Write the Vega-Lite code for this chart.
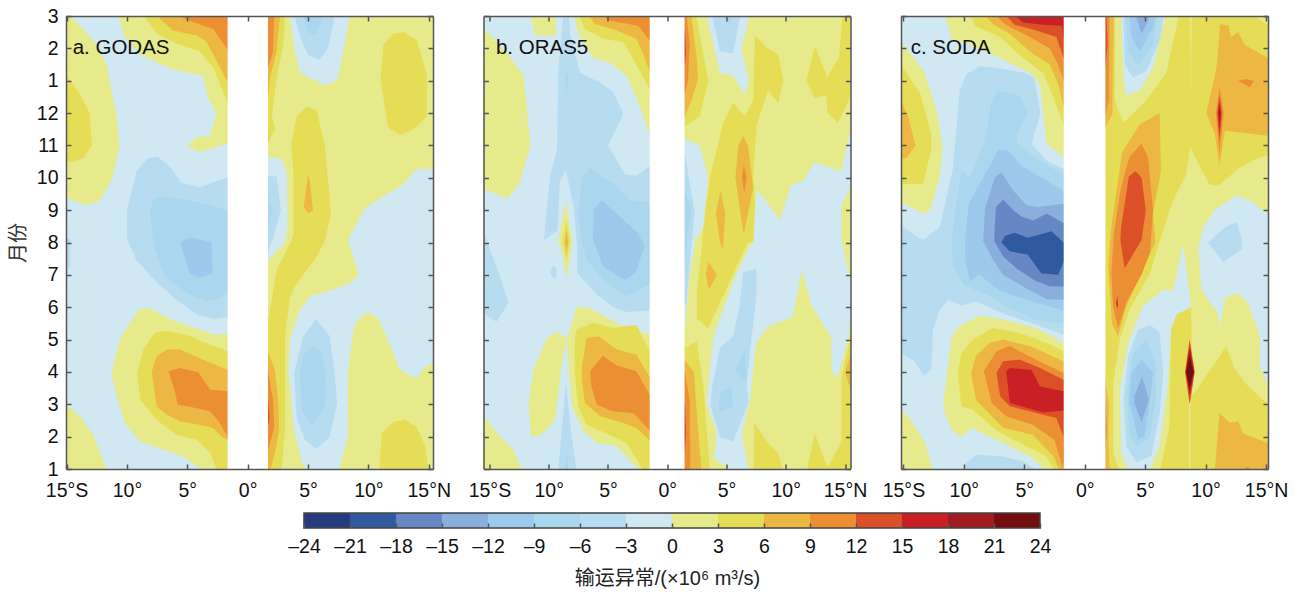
{"$schema":"https://vega.github.io/schema/vega-lite/v6.json","padding":{"left":8,"top":6,"right":0,"bottom":0},"background":"white","config":{"view":{"stroke":null},"font":"Liberation Sans, Noto Sans CJK SC","axis":{"labelFontSize":19.5,"labelColor":"#111","grid":false,"domain":true,"domainColor":"#555","domainWidth":1.5,"tickColor":"#555","tickWidth":1.5,"labelFlush":false,"labelFont":"Liberation Sans","titleFont":"Liberation Sans, Noto Sans CJK SC"}},
"spacing":12,
"vconcat":[{"hconcat":[
{"width":367,"height":453,"resolve":{"axis":{"x":"independent","y":"independent"}},"layer":[
{"data":{"values":[
{"g":0,"l":-1.5,"x":-16,"y":0},{"g":0,"l":-1.5,"x":16,"y":0},{"g":0,"l":-1.5,"x":16,"y":16},{"g":0,"l":-1.5,"x":-16,"y":16},
{"g":1,"l":1.5,"x":-14.6,"y":15},{"g":1,"l":1.5,"x":-12.5,"y":14.1},{"g":1,"l":1.5,"x":-11.7,"y":13.5},{"g":1,"l":1.5,"x":-10.9,"y":12},{"g":1,"l":1.5,"x":-10.6,"y":11},{"g":1,"l":1.5,"x":-11.2,"y":10},{"g":1,"l":1.5,"x":-12.2,"y":9.3},{"g":1,"l":1.5,"x":-13.4,"y":9.15},{"g":1,"l":1.5,"x":-15.1,"y":9.4},{"g":1,"l":1.5,"x":-16,"y":9.4},{"g":1,"l":1.5,"x":-16,"y":15},
{"g":2,"l":4.5,"x":-16,"y":13.2},{"g":2,"l":4.5,"x":-15.1,"y":13.2},{"g":2,"l":4.5,"x":-13.9,"y":12.6},{"g":2,"l":4.5,"x":-13.1,"y":12},{"g":2,"l":4.5,"x":-12.9,"y":11},{"g":2,"l":4.5,"x":-13.6,"y":10.63},{"g":2,"l":4.5,"x":-14.3,"y":10.5},{"g":2,"l":4.5,"x":-16,"y":10.5},
{"g":3,"l":1.5,"x":-10.7,"y":15},{"g":3,"l":1.5,"x":-10.2,"y":14.35},{"g":3,"l":1.5,"x":-8.9,"y":13.8},{"g":3,"l":1.5,"x":-6.2,"y":13.35},{"g":3,"l":1.5,"x":-3.7,"y":13.15},{"g":3,"l":1.5,"x":-3.3,"y":12.5},{"g":3,"l":1.5,"x":-2.6,"y":12},{"g":3,"l":1.5,"x":-3.1,"y":11.3},{"g":3,"l":1.5,"x":-4.2,"y":11.25},{"g":3,"l":1.5,"x":-5.05,"y":11},{"g":3,"l":1.5,"x":-3.95,"y":10.8},{"g":3,"l":1.5,"x":-1.7,"y":11.05},{"g":3,"l":1.5,"x":0,"y":11.05},{"g":3,"l":1.5,"x":0,"y":15},
{"g":4,"l":4.5,"x":-8.6,"y":15},{"g":4,"l":4.5,"x":-7.5,"y":14.45},{"g":4,"l":4.5,"x":-5.9,"y":14.15},{"g":4,"l":4.5,"x":-3.95,"y":13.9},{"g":4,"l":4.5,"x":-2.85,"y":13.4},{"g":4,"l":4.5,"x":-1.65,"y":12.3},{"g":4,"l":4.5,"x":0,"y":12.3},{"g":4,"l":4.5,"x":0,"y":15},
{"g":5,"l":7.5,"x":-7.5,"y":15},{"g":5,"l":7.5,"x":-6.2,"y":14.55},{"g":5,"l":7.5,"x":-4.2,"y":14.4},{"g":5,"l":7.5,"x":-3.4,"y":14.2},{"g":5,"l":7.5,"x":-1.65,"y":12.95},{"g":5,"l":7.5,"x":0,"y":12.95},{"g":5,"l":7.5,"x":0,"y":15},
{"g":6,"l":10.5,"x":-5.75,"y":15},{"g":6,"l":10.5,"x":-4.8,"y":14.85},{"g":6,"l":10.5,"x":-2.85,"y":14.6},{"g":6,"l":10.5,"x":-1.65,"y":13.95},{"g":6,"l":10.5,"x":0,"y":13.95},{"g":6,"l":10.5,"x":0,"y":15},
{"g":7,"l":-4.5,"x":-1.65,"y":10.02},{"g":7,"l":-4.5,"x":-2.85,"y":9.87},{"g":7,"l":-4.5,"x":-3.95,"y":9.7},{"g":7,"l":-4.5,"x":-5.5,"y":9.85},{"g":7,"l":-4.5,"x":-6.4,"y":10.33},{"g":7,"l":-4.5,"x":-7.5,"y":10.66},{"g":7,"l":-4.5,"x":-8.3,"y":10.6},{"g":7,"l":-4.5,"x":-9.2,"y":10.2},{"g":7,"l":-4.5,"x":-9.6,"y":9.6},{"g":7,"l":-4.5,"x":-10,"y":9},{"g":7,"l":-4.5,"x":-10,"y":8.1},{"g":7,"l":-4.5,"x":-9.2,"y":7.45},{"g":7,"l":-4.5,"x":-7.5,"y":6.75},{"g":7,"l":-4.5,"x":-5.9,"y":6.23},{"g":7,"l":-4.5,"x":-4.2,"y":5.77},{"g":7,"l":-4.5,"x":-2.85,"y":5.64},{"g":7,"l":-4.5,"x":-1.65,"y":5.7},{"g":7,"l":-4.5,"x":0,"y":5.7},{"g":7,"l":-4.5,"x":0,"y":10.02},
{"g":8,"l":-7.5,"x":-1.65,"y":9},{"g":8,"l":-7.5,"x":-3.1,"y":9.16},{"g":8,"l":-7.5,"x":-4.8,"y":9.3},{"g":8,"l":-7.5,"x":-6.9,"y":9.42},{"g":8,"l":-7.5,"x":-7.8,"y":9.35},{"g":8,"l":-7.5,"x":-8.1,"y":9},{"g":8,"l":-7.5,"x":-7.8,"y":7.98},{"g":8,"l":-7.5,"x":-7,"y":7.05},{"g":8,"l":-7.5,"x":-6.2,"y":6.75},{"g":8,"l":-7.5,"x":-4.8,"y":6.39},{"g":8,"l":-7.5,"x":-3.4,"y":6.18},{"g":8,"l":-7.5,"x":-2.6,"y":6.23},{"g":8,"l":-7.5,"x":-1.65,"y":6.49},{"g":8,"l":-7.5,"x":0,"y":6.49},{"g":8,"l":-7.5,"x":0,"y":9},
{"g":9,"l":-10.5,"x":-5.6,"y":8},{"g":9,"l":-10.5,"x":-4.8,"y":8.16},{"g":9,"l":-10.5,"x":-3,"y":8},{"g":9,"l":-10.5,"x":-2.9,"y":7.05},{"g":9,"l":-10.5,"x":-3.95,"y":6.9},{"g":9,"l":-10.5,"x":-4.8,"y":7.05},
{"g":10,"l":-4.5,"x":-16,"y":8.3},{"g":10,"l":-4.5,"x":-14.7,"y":8.1},{"g":10,"l":-4.5,"x":-14.7,"y":7.3},{"g":10,"l":-4.5,"x":-16,"y":6.6},
{"g":11,"l":1.5,"x":-11.3,"y":3.97},{"g":11,"l":1.5,"x":-10.6,"y":5},{"g":11,"l":1.5,"x":-9.05,"y":5.92},{"g":11,"l":1.5,"x":-8.1,"y":5.97},{"g":11,"l":1.5,"x":-6.2,"y":5.6},{"g":11,"l":1.5,"x":-3.95,"y":5.3},{"g":11,"l":1.5,"x":-2.7,"y":5.15},{"g":11,"l":1.5,"x":-1.65,"y":5.18},{"g":11,"l":1.5,"x":0,"y":5.18},{"g":11,"l":1.5,"x":0,"y":0.9},{"g":11,"l":1.5,"x":-3.6,"y":0.9},{"g":11,"l":1.5,"x":-5.1,"y":1.34},{"g":11,"l":1.5,"x":-7,"y":1.6},{"g":11,"l":1.5,"x":-8.9,"y":1.85},{"g":11,"l":1.5,"x":-10.15,"y":2.4},{"g":11,"l":1.5,"x":-10.85,"y":3.25},
{"g":12,"l":4.5,"x":-9.15,"y":3.97},{"g":12,"l":4.5,"x":-8.65,"y":4.69},{"g":12,"l":4.5,"x":-7.7,"y":5.2},{"g":12,"l":4.5,"x":-7,"y":5.27},{"g":12,"l":4.5,"x":-5.05,"y":5.15},{"g":12,"l":4.5,"x":-2.85,"y":4.8},{"g":12,"l":4.5,"x":-1.65,"y":4.65},{"g":12,"l":4.5,"x":0,"y":4.65},{"g":12,"l":4.5,"x":0,"y":0.9},{"g":12,"l":4.5,"x":-2.5,"y":0.9},{"g":12,"l":4.5,"x":-3.1,"y":1.5},{"g":12,"l":4.5,"x":-4.2,"y":1.9},{"g":12,"l":4.5,"x":-5.9,"y":2.06},{"g":12,"l":4.5,"x":-7.55,"y":2.52},{"g":12,"l":4.5,"x":-8.9,"y":3.14},
{"g":13,"l":7.5,"x":-7.95,"y":4},{"g":13,"l":7.5,"x":-7.55,"y":4.48},{"g":13,"l":7.5,"x":-6.7,"y":4.69},{"g":13,"l":7.5,"x":-5.6,"y":4.69},{"g":13,"l":7.5,"x":-3.4,"y":4.33},{"g":13,"l":7.5,"x":-1.65,"y":4.07},{"g":13,"l":7.5,"x":0,"y":4.07},{"g":13,"l":7.5,"x":0,"y":1.9},{"g":13,"l":7.5,"x":-1.65,"y":1.9},{"g":13,"l":7.5,"x":-2.15,"y":2},{"g":13,"l":7.5,"x":-2.85,"y":2.27},{"g":13,"l":7.5,"x":-3.95,"y":2.37},{"g":13,"l":7.5,"x":-5.6,"y":2.47},{"g":13,"l":7.5,"x":-6.7,"y":2.68},{"g":13,"l":7.5,"x":-7.55,"y":2.94},
{"g":14,"l":10.5,"x":-6.55,"y":4.02},{"g":14,"l":10.5,"x":-5.6,"y":4.12},{"g":14,"l":10.5,"x":-4.1,"y":3.99},{"g":14,"l":10.5,"x":-3.1,"y":3.45},{"g":14,"l":10.5,"x":-1.65,"y":3.4},{"g":14,"l":10.5,"x":0,"y":3.4},{"g":14,"l":10.5,"x":0,"y":2},{"g":14,"l":10.5,"x":-1.65,"y":2},{"g":14,"l":10.5,"x":-2.4,"y":2.47},{"g":14,"l":10.5,"x":-3.1,"y":2.78},{"g":14,"l":10.5,"x":-4.2,"y":2.88},{"g":14,"l":10.5,"x":-5.8,"y":2.99},{"g":14,"l":10.5,"x":-6,"y":3.35},
{"g":15,"l":1.5,"x":-16,"y":2.99},{"g":15,"l":1.5,"x":-15.1,"y":2.99},{"g":15,"l":1.5,"x":-13.9,"y":2.63},{"g":15,"l":1.5,"x":-12.8,"y":2.06},{"g":15,"l":1.5,"x":-11.6,"y":0.9},{"g":15,"l":1.5,"x":-16,"y":0.9},
{"g":16,"l":4.5,"x":-16,"y":1.25},{"g":16,"l":4.5,"x":-15.1,"y":1.25},{"g":16,"l":4.5,"x":-14.6,"y":0.9},{"g":16,"l":4.5,"x":-16,"y":0.9},
{"g":17,"l":1.5,"x":0,"y":0.9},{"g":17,"l":1.5,"x":5,"y":0.9},{"g":17,"l":1.5,"x":4.5,"y":1.2},{"g":17,"l":1.5,"x":3.8,"y":2.3},{"g":17,"l":1.5,"x":3.4,"y":3.97},{"g":17,"l":1.5,"x":3.5,"y":5},{"g":17,"l":1.5,"x":4.3,"y":5.9},{"g":17,"l":1.5,"x":5.2,"y":6.35},{"g":17,"l":1.5,"x":6.7,"y":6.49},{"g":17,"l":1.5,"x":8.5,"y":6.75},{"g":17,"l":1.5,"x":9.2,"y":7},{"g":17,"l":1.5,"x":8.3,"y":8.08},{"g":17,"l":1.5,"x":9.7,"y":9.05},{"g":17,"l":1.5,"x":10.7,"y":9.3},{"g":17,"l":1.5,"x":12.9,"y":9.8},{"g":17,"l":1.5,"x":14,"y":10.27},{"g":17,"l":1.5,"x":16,"y":10.27},{"g":17,"l":1.5,"x":16,"y":15.1},{"g":17,"l":1.5,"x":0,"y":15.1},
{"g":18,"l":1.5,"x":7.5,"y":0.9},{"g":18,"l":1.5,"x":8.3,"y":2},{"g":18,"l":1.5,"x":8.3,"y":3.97},{"g":18,"l":1.5,"x":8.75,"y":5.3},{"g":18,"l":1.5,"x":9.2,"y":5.66},{"g":18,"l":1.5,"x":10,"y":5.84},{"g":18,"l":1.5,"x":10.8,"y":5.66},{"g":18,"l":1.5,"x":11.5,"y":5.1},{"g":18,"l":1.5,"x":12.6,"y":4.07},{"g":18,"l":1.5,"x":14,"y":3.8},{"g":18,"l":1.5,"x":14.55,"y":4.1},{"g":18,"l":1.5,"x":15.4,"y":4.3},{"g":18,"l":1.5,"x":16,"y":4.3},{"g":18,"l":1.5,"x":16,"y":0.9},
{"g":19,"l":-1.5,"x":3.45,"y":15.1},{"g":19,"l":-1.5,"x":3.9,"y":13.9},{"g":19,"l":-1.5,"x":4.35,"y":13.25},{"g":19,"l":-1.5,"x":6.4,"y":12.85},{"g":19,"l":-1.5,"x":7.4,"y":13},{"g":19,"l":-1.5,"x":8.05,"y":14.15},{"g":19,"l":-1.5,"x":8.5,"y":15.1},
{"g":20,"l":-4.5,"x":3.8,"y":15.1},{"g":20,"l":-4.5,"x":4.35,"y":14.35},{"g":20,"l":-4.5,"x":5,"y":13.8},{"g":20,"l":-4.5,"x":6,"y":13.65},{"g":20,"l":-4.5,"x":6.7,"y":14.05},{"g":20,"l":-4.5,"x":7.25,"y":15.1},
{"g":21,"l":-7.5,"x":4.5,"y":15.1},{"g":21,"l":-7.5,"x":5,"y":14.5},{"g":21,"l":-7.5,"x":5.6,"y":14.4},{"g":21,"l":-7.5,"x":6.4,"y":15.1},
{"g":22,"l":4.5,"x":11,"y":13.05},{"g":22,"l":4.5,"x":11.25,"y":14.13},{"g":22,"l":4.5,"x":12.1,"y":14.46},{"g":22,"l":4.5,"x":13,"y":14.5},{"g":22,"l":4.5,"x":14,"y":14.25},{"g":22,"l":4.5,"x":14.85,"y":13.2},{"g":22,"l":4.5,"x":14.85,"y":11.9},{"g":22,"l":4.5,"x":13.75,"y":11.5},{"g":22,"l":4.5,"x":12.6,"y":11.33},{"g":22,"l":4.5,"x":11.65,"y":11.55},
{"g":23,"l":4.5,"x":4.9,"y":12.2},{"g":23,"l":4.5,"x":5.7,"y":12.1},{"g":23,"l":4.5,"x":6.4,"y":11},{"g":23,"l":4.5,"x":6.8,"y":9.3},{"g":23,"l":4.5,"x":6.9,"y":8.9},{"g":23,"l":4.5,"x":6.4,"y":8.05},{"g":23,"l":4.5,"x":5.7,"y":7.55},{"g":23,"l":4.5,"x":3.9,"y":6.64},{"g":23,"l":4.5,"x":3.5,"y":6.3},{"g":23,"l":4.5,"x":3.1,"y":5.1},{"g":23,"l":4.5,"x":3.1,"y":2.3},{"g":23,"l":4.5,"x":2.8,"y":0.9},{"g":23,"l":4.5,"x":0,"y":0.9},{"g":23,"l":4.5,"x":0,"y":5.6},{"g":23,"l":4.5,"x":1.7,"y":5.6},{"g":23,"l":4.5,"x":1.85,"y":5.9},{"g":23,"l":4.5,"x":2.4,"y":7.16},{"g":23,"l":4.5,"x":3.65,"y":8.08},{"g":23,"l":4.5,"x":3.8,"y":8.27},{"g":23,"l":4.5,"x":3.8,"y":10.1},{"g":23,"l":4.5,"x":3.6,"y":11},{"g":23,"l":4.5,"x":4.05,"y":11.9},
{"g":24,"l":4.5,"x":0,"y":15.1},{"g":24,"l":4.5,"x":3.1,"y":15.1},{"g":24,"l":4.5,"x":2.95,"y":14.1},{"g":24,"l":4.5,"x":2.4,"y":13.1},{"g":24,"l":4.5,"x":2,"y":11.9},{"g":24,"l":4.5,"x":2.3,"y":11.5},{"g":24,"l":4.5,"x":1.7,"y":11.1},{"g":24,"l":4.5,"x":0,"y":11.1},
{"g":25,"l":7.5,"x":0,"y":15.1},{"g":25,"l":7.5,"x":2.7,"y":15.1},{"g":25,"l":7.5,"x":2.4,"y":13.9},{"g":25,"l":7.5,"x":1.85,"y":13.1},{"g":25,"l":7.5,"x":1.7,"y":12.6},{"g":25,"l":7.5,"x":0,"y":12.6},
{"g":26,"l":10.5,"x":0,"y":15.1},{"g":26,"l":10.5,"x":2.2,"y":15.1},{"g":26,"l":10.5,"x":2.1,"y":13.9},{"g":26,"l":10.5,"x":1.7,"y":13.4},{"g":26,"l":10.5,"x":0,"y":13.4},
{"g":27,"l":-1.5,"x":0,"y":10.65},{"g":27,"l":-1.5,"x":2.8,"y":10.6},{"g":27,"l":-1.5,"x":3.25,"y":10.1},{"g":27,"l":-1.5,"x":3.3,"y":8.4},{"g":27,"l":-1.5,"x":3.05,"y":8},{"g":27,"l":-1.5,"x":1.7,"y":7.45},{"g":27,"l":-1.5,"x":0,"y":7.45},
{"g":28,"l":-4.5,"x":0,"y":10.07},{"g":28,"l":-4.5,"x":2.4,"y":10.05},{"g":28,"l":-4.5,"x":2.75,"y":9},{"g":28,"l":-4.5,"x":2.1,"y":8.1},{"g":28,"l":-4.5,"x":1.7,"y":7.75},{"g":28,"l":-4.5,"x":0,"y":7.75},
{"g":29,"l":-7.5,"x":0,"y":9.5},{"g":29,"l":-7.5,"x":1.7,"y":9.45},{"g":29,"l":-7.5,"x":2.1,"y":9},{"g":29,"l":-7.5,"x":1.7,"y":8.5},{"g":29,"l":-7.5,"x":0,"y":8.5},
{"g":30,"l":7.5,"x":5,"y":10.1},{"g":30,"l":7.5,"x":4.65,"y":9.1},{"g":30,"l":7.5,"x":5,"y":8.9},{"g":30,"l":7.5,"x":5.4,"y":9},{"g":30,"l":7.5,"x":5.15,"y":9.9},
{"g":31,"l":-4.5,"x":5.65,"y":5.63},{"g":31,"l":-4.5,"x":4.6,"y":5.1},{"g":31,"l":-4.5,"x":3.85,"y":3.97},{"g":31,"l":-4.5,"x":4.05,"y":2.6},{"g":31,"l":-4.5,"x":4.75,"y":1.9},{"g":31,"l":-4.5,"x":5.7,"y":1.62},{"g":31,"l":-4.5,"x":6.8,"y":2},{"g":31,"l":-4.5,"x":7.4,"y":3.04},{"g":31,"l":-4.5,"x":7.2,"y":3.97},{"g":31,"l":-4.5,"x":6.8,"y":5.1},
{"g":32,"l":-7.5,"x":5.45,"y":4.8},{"g":32,"l":-7.5,"x":4.65,"y":4.58},{"g":32,"l":-7.5,"x":4.3,"y":3.97},{"g":32,"l":-7.5,"x":4.5,"y":2.83},{"g":32,"l":-7.5,"x":5.3,"y":2.37},{"g":32,"l":-7.5,"x":6.4,"y":2.94},{"g":32,"l":-7.5,"x":6.5,"y":3.86},{"g":32,"l":-7.5,"x":6.1,"y":4.58},
{"g":33,"l":4.5,"x":10.9,"y":0.9},{"g":33,"l":4.5,"x":11.1,"y":2.1},{"g":33,"l":4.5,"x":12.1,"y":2.47},{"g":33,"l":4.5,"x":13,"y":2.52},{"g":33,"l":4.5,"x":14,"y":2.3},{"g":33,"l":4.5,"x":14.7,"y":1.7},{"g":33,"l":4.5,"x":15,"y":0.9},
{"g":34,"l":7.5,"x":0,"y":4.6},{"g":34,"l":7.5,"x":1.7,"y":4.6},{"g":34,"l":7.5,"x":2.25,"y":4.07},{"g":34,"l":7.5,"x":2.55,"y":3.04},{"g":34,"l":7.5,"x":2.6,"y":2.2},{"g":34,"l":7.5,"x":2.25,"y":1.5},{"g":34,"l":7.5,"x":1.85,"y":0.9},{"g":34,"l":7.5,"x":0,"y":0.9},
{"g":35,"l":10.5,"x":0,"y":4},{"g":35,"l":10.5,"x":1.7,"y":4},{"g":35,"l":10.5,"x":2.1,"y":3.15},{"g":35,"l":10.5,"x":2.2,"y":2.3},{"g":35,"l":10.5,"x":1.7,"y":1.6},{"g":35,"l":10.5,"x":0,"y":1.6},
{"g":36,"l":13.5,"x":0,"y":3.15},{"g":36,"l":13.5,"x":1.7,"y":3.15},{"g":36,"l":13.5,"x":1.8,"y":2.6},{"g":36,"l":13.5,"x":1.7,"y":2.35},{"g":36,"l":13.5,"x":0,"y":2.35}
]},
"mark":{"type":"line","clip":true,"strokeWidth":0},"encoding":{"x":{"field":"x","type":"quantitative","scale":{"domain":[-15.05,15.35],"nice":false,"zero":false},"title":null,"axis":{"zindex":1,"values":[-15,-10,-5,0,5,10,15],"tickSize":-5,"labelPadding":17,"labelExpr":"datum.value==-15?'15°S':datum.value==15?'15°N':abs(datum.value)+'°'"}},"y":{"field":"y","type":"quantitative","scale":{"domain":[1,15],"nice":false,"zero":false},"title":"月份","axis":{"zindex":1,"values":[1,2,3,4,5,6,7,8,9,10,11,12,13,14,15],"tickSize":-5,"labelPadding":13,"titleFontSize":20,"titleFontWeight":"normal","titleColor":"#333","titlePadding":8,"labelExpr":"datum.value>12?datum.value-12:datum.value"}},"detail":{"field":"g"},"order":{"value":null},"fill":{"field":"l","type":"quantitative","legend":null,"scale":{"type":"threshold","domain":[-21,-18,-15,-12,-9,-6,-3,0,3,6,9,12,15,18,21],"range":["#263a80","#2f5a9f","#6786c4","#8bafdc","#9cc9ec","#aad6ee","#b8dcef","#cfe8f2","#e6ea8a","#e5dd55","#ecb843","#ec8e33","#dc5027","#c92026","#a01c20","#730d0e"]}}}},
{"data":{"values":[{"x":-1.66,"x2":1.68,"y":1,"y2":15}]},"mark":{"type":"rect","fill":"white"},"encoding":{"x":{"field":"x","type":"quantitative","title":null,"axis":{"zindex":1,"orient":"top","values":[-15,-10,-5,0,5,10,15],"tickSize":-5,"labels":false}},"x2":{"field":"x2"},"y":{"field":"y","type":"quantitative","title":null,"axis":{"zindex":1,"orient":"right","values":[1,2,3,4,5,6,7,8,9,10,11,12,13,14,15],"tickSize":-5,"labels":false}},"y2":{"field":"y2"}}},
{"data":{"values":[{"x":-14.5,"y":14,"t":"a. GODAS"}]},"mark":{"type":"text","align":"left","baseline":"middle","fontSize":20.5,"color":"#111"},"encoding":{"x":{"field":"x","type":"quantitative","axis":null},"y":{"field":"y","type":"quantitative","axis":null},"text":{"field":"t"}}}
]},
{"width":367,"height":453,"resolve":{"axis":{"x":"independent","y":"independent"}},"layer":[
{"data":{"values":[
{"g":0,"l":-1.5,"x":-16,"y":0},{"g":0,"l":-1.5,"x":16,"y":0},{"g":0,"l":-1.5,"x":16,"y":16},{"g":0,"l":-1.5,"x":-16,"y":16},
{"g":1,"l":1.5,"x":-16,"y":14.6},{"g":1,"l":1.5,"x":-15.45,"y":14.6},{"g":1,"l":1.5,"x":-13.4,"y":13.8},{"g":1,"l":1.5,"x":-12.1,"y":13.15},{"g":1,"l":1.5,"x":-11.55,"y":11},{"g":1,"l":1.5,"x":-12.4,"y":9.87},{"g":1,"l":1.5,"x":-13.45,"y":9.35},{"g":1,"l":1.5,"x":-15.45,"y":9.65},{"g":1,"l":1.5,"x":-16,"y":9.65},
{"g":2,"l":1.5,"x":-11.6,"y":15.1},{"g":2,"l":1.5,"x":-11.15,"y":14.4},{"g":2,"l":1.5,"x":-9.4,"y":14.4},{"g":2,"l":1.5,"x":-9.4,"y":15.1},
{"g":3,"l":1.5,"x":-7.9,"y":15.1},{"g":3,"l":1.5,"x":-7.5,"y":14.45},{"g":3,"l":1.5,"x":-6.25,"y":13.7},{"g":3,"l":1.5,"x":-4.8,"y":13.55},{"g":3,"l":1.5,"x":-3.45,"y":13.15},{"g":3,"l":1.5,"x":-2.6,"y":12.5},{"g":3,"l":1.5,"x":-1.5,"y":11.35},{"g":3,"l":1.5,"x":0,"y":11.35},{"g":3,"l":1.5,"x":0,"y":15.1},
{"g":4,"l":4.5,"x":-7.5,"y":15.1},{"g":4,"l":4.5,"x":-6.95,"y":14.6},{"g":4,"l":4.5,"x":-5.4,"y":14.3},{"g":4,"l":4.5,"x":-3.7,"y":14.2},{"g":4,"l":4.5,"x":-2.85,"y":13.65},{"g":4,"l":4.5,"x":-1.5,"y":12.75},{"g":4,"l":4.5,"x":0,"y":12.75},{"g":4,"l":4.5,"x":0,"y":15.1},
{"g":5,"l":7.5,"x":-6.8,"y":15.1},{"g":5,"l":7.5,"x":-6.1,"y":14.75},{"g":5,"l":7.5,"x":-4.25,"y":14.55},{"g":5,"l":7.5,"x":-2.6,"y":14.3},{"g":5,"l":7.5,"x":-2,"y":13.8},{"g":5,"l":7.5,"x":-1.5,"y":13.3},{"g":5,"l":7.5,"x":0,"y":13.3},{"g":5,"l":7.5,"x":0,"y":15.1},
{"g":6,"l":10.5,"x":-5.8,"y":15.1},{"g":6,"l":10.5,"x":-4.8,"y":14.85},{"g":6,"l":10.5,"x":-2.45,"y":14.7},{"g":6,"l":10.5,"x":-1.5,"y":14.25},{"g":6,"l":10.5,"x":0,"y":14.25},{"g":6,"l":10.5,"x":0,"y":15.1},
{"g":7,"l":-4.5,"x":-8.75,"y":15.1},{"g":7,"l":-4.5,"x":-9.2,"y":13.3},{"g":7,"l":-4.5,"x":-9.3,"y":10.9},{"g":7,"l":-4.5,"x":-9.9,"y":10},{"g":7,"l":-4.5,"x":-10.4,"y":8.07},{"g":7,"l":-4.5,"x":-9.25,"y":8.37},{"g":7,"l":-4.5,"x":-9.05,"y":9.9},{"g":7,"l":-4.5,"x":-8.55,"y":10.25},{"g":7,"l":-4.5,"x":-7.9,"y":9.1},{"g":7,"l":-4.5,"x":-7.6,"y":7.85},{"g":7,"l":-4.5,"x":-7.6,"y":7.05},{"g":7,"l":-4.5,"x":-5.95,"y":6.4},{"g":7,"l":-4.5,"x":-4.55,"y":6},{"g":7,"l":-4.5,"x":-3.45,"y":5.85},{"g":7,"l":-4.5,"x":-1.5,"y":5.9},{"g":7,"l":-4.5,"x":0,"y":5.9},{"g":7,"l":-4.5,"x":0,"y":10.35},{"g":7,"l":-4.5,"x":-1.5,"y":10.35},{"g":7,"l":-4.5,"x":-2.6,"y":10.07},{"g":7,"l":-4.5,"x":-3.55,"y":10.1},{"g":7,"l":-4.5,"x":-5,"y":11},{"g":7,"l":-4.5,"x":-3.7,"y":11.97},{"g":7,"l":-4.5,"x":-4.55,"y":12.65},{"g":7,"l":-4.5,"x":-5.7,"y":12.95},{"g":7,"l":-4.5,"x":-7.35,"y":13.25},{"g":7,"l":-4.5,"x":-8.2,"y":14.45},{"g":7,"l":-4.5,"x":-8.3,"y":15.1},
{"g":8,"l":-7.5,"x":-8.55,"y":13.35},{"g":8,"l":-7.5,"x":-8.35,"y":13},{"g":8,"l":-7.5,"x":-8.5,"y":12.55},{"g":8,"l":-7.5,"x":-8.6,"y":13},
{"g":9,"l":-7.5,"x":-6.5,"y":10.3},{"g":9,"l":-7.5,"x":-7.2,"y":10},{"g":9,"l":-7.5,"x":-7.5,"y":8.9},{"g":9,"l":-7.5,"x":-7.25,"y":8.08},{"g":9,"l":-7.5,"x":-6.8,"y":7.47},{"g":9,"l":-7.5,"x":-5.4,"y":6.85},{"g":9,"l":-7.5,"x":-3.45,"y":6.35},{"g":9,"l":-7.5,"x":-1.5,"y":6.7},{"g":9,"l":-7.5,"x":0,"y":6.7},{"g":9,"l":-7.5,"x":0,"y":9.25},{"g":9,"l":-7.5,"x":-1.5,"y":9.25},{"g":9,"l":-7.5,"x":-3.15,"y":9.3},{"g":9,"l":-7.5,"x":-4.25,"y":9.75},{"g":9,"l":-7.5,"x":-5.4,"y":10},
{"g":10,"l":-10.5,"x":-5.55,"y":9.3},{"g":10,"l":-10.5,"x":-6.2,"y":9},{"g":10,"l":-10.5,"x":-6.25,"y":8.08},{"g":10,"l":-10.5,"x":-5.4,"y":7.26},{"g":10,"l":-10.5,"x":-3.55,"y":6.85},{"g":10,"l":-10.5,"x":-2.7,"y":7.05},{"g":10,"l":-10.5,"x":-1.9,"y":7.9},{"g":10,"l":-10.5,"x":-2.45,"y":8.27},{"g":10,"l":-10.5,"x":-4.25,"y":8.9},
{"g":11,"l":1.5,"x":-8.55,"y":9.3},{"g":11,"l":1.5,"x":-9.2,"y":8.05},{"g":11,"l":1.5,"x":-8.9,"y":7.77},{"g":11,"l":1.5,"x":-8.5,"y":6.87},{"g":11,"l":1.5,"x":-8.05,"y":7.88},{"g":11,"l":1.5,"x":-8.05,"y":8.05},
{"g":12,"l":4.5,"x":-8.5,"y":8.7},{"g":12,"l":4.5,"x":-8.85,"y":8.05},{"g":12,"l":4.5,"x":-8.5,"y":7.4},{"g":12,"l":4.5,"x":-8.2,"y":8.05},
{"g":13,"l":7.5,"x":-8.5,"y":8.4},{"g":13,"l":7.5,"x":-8.65,"y":8},{"g":13,"l":7.5,"x":-8.5,"y":7.7},{"g":13,"l":7.5,"x":-8.35,"y":8},
{"g":14,"l":-4.5,"x":-9.6,"y":7.3},{"g":14,"l":-4.5,"x":-9.9,"y":7.05},{"g":14,"l":-4.5,"x":-9.45,"y":6.83},{"g":14,"l":-4.5,"x":-9.3,"y":7.16},
{"g":15,"l":-4.5,"x":-16,"y":8.3},{"g":15,"l":-4.5,"x":-15.45,"y":8.3},{"g":15,"l":-4.5,"x":-14.95,"y":7.78},{"g":15,"l":-4.5,"x":-14.1,"y":6.95},{"g":15,"l":-4.5,"x":-13.4,"y":6.13},{"g":15,"l":-4.5,"x":-14.4,"y":5.55},{"g":15,"l":-4.5,"x":-15.45,"y":5.8},{"g":15,"l":-4.5,"x":-16,"y":5.8},
{"g":16,"l":1.5,"x":-8.5,"y":5.05},{"g":16,"l":1.5,"x":-9.45,"y":5.25},{"g":16,"l":1.5,"x":-10.2,"y":5},{"g":16,"l":1.5,"x":-11.3,"y":4.07},{"g":16,"l":1.5,"x":-11.7,"y":3.04},{"g":16,"l":1.5,"x":-11.5,"y":2},{"g":16,"l":1.5,"x":-10.6,"y":2.06},{"g":16,"l":1.5,"x":-9.45,"y":2.52},{"g":16,"l":1.5,"x":-9,"y":3.97},
{"g":17,"l":1.5,"x":-8.5,"y":5},{"g":17,"l":1.5,"x":-7.6,"y":6.03},{"g":17,"l":1.5,"x":-6.5,"y":5.97},{"g":17,"l":1.5,"x":-4,"y":5.46},{"g":17,"l":1.5,"x":-1.5,"y":5.15},{"g":17,"l":1.5,"x":0,"y":5.15},{"g":17,"l":1.5,"x":0,"y":0.9},{"g":17,"l":1.5,"x":-2.2,"y":0.9},{"g":17,"l":1.5,"x":-4.25,"y":1.7},{"g":17,"l":1.5,"x":-5.95,"y":1.8},{"g":17,"l":1.5,"x":-7.1,"y":2.2},{"g":17,"l":1.5,"x":-8.05,"y":2.94},
{"g":18,"l":4.5,"x":-7.8,"y":5.05},{"g":18,"l":4.5,"x":-7.65,"y":5.3},{"g":18,"l":4.5,"x":-6.25,"y":5.53},{"g":18,"l":4.5,"x":-4.55,"y":5.36},{"g":18,"l":4.5,"x":-2.6,"y":5.46},{"g":18,"l":4.5,"x":-1.5,"y":4.64},{"g":18,"l":4.5,"x":0,"y":4.64},{"g":18,"l":4.5,"x":0,"y":0.9},{"g":18,"l":4.5,"x":-1.9,"y":0.9},{"g":18,"l":4.5,"x":-3.45,"y":1.8},{"g":18,"l":4.5,"x":-5.1,"y":2.1},{"g":18,"l":4.5,"x":-6.8,"y":2.37},{"g":18,"l":4.5,"x":-7.5,"y":2.94},{"g":18,"l":4.5,"x":-7.8,"y":3.97},
{"g":19,"l":7.5,"x":-7.2,"y":4.17},{"g":19,"l":7.5,"x":-6.8,"y":5.05},{"g":19,"l":7.5,"x":-5.8,"y":5.1},{"g":19,"l":7.5,"x":-4.25,"y":4.69},{"g":19,"l":7.5,"x":-2.6,"y":4.53},{"g":19,"l":7.5,"x":-1.5,"y":3.86},{"g":19,"l":7.5,"x":0,"y":3.86},{"g":19,"l":7.5,"x":0,"y":1.9},{"g":19,"l":7.5,"x":-1.5,"y":1.9},{"g":19,"l":7.5,"x":-2.6,"y":2.27},{"g":19,"l":7.5,"x":-3.7,"y":2.42},{"g":19,"l":7.5,"x":-5.65,"y":2.63},{"g":19,"l":7.5,"x":-6.95,"y":3.04},{"g":19,"l":7.5,"x":-7.2,"y":3.76},
{"g":20,"l":10.5,"x":-6.5,"y":4.02},{"g":20,"l":10.5,"x":-5.45,"y":4.5},{"g":20,"l":10.5,"x":-4.25,"y":4.2},{"g":20,"l":10.5,"x":-2.6,"y":4.02},{"g":20,"l":10.5,"x":-1.5,"y":3.3},{"g":20,"l":10.5,"x":0,"y":3.3},{"g":20,"l":10.5,"x":0,"y":2.2},{"g":20,"l":10.5,"x":-1.5,"y":2.2},{"g":20,"l":10.5,"x":-2.85,"y":2.73},{"g":20,"l":10.5,"x":-4.55,"y":2.78},{"g":20,"l":10.5,"x":-5.95,"y":2.99},{"g":20,"l":10.5,"x":-6.4,"y":3.55},
{"g":21,"l":-4.5,"x":-8.55,"y":3.66},{"g":21,"l":-4.5,"x":-9.2,"y":0.9},{"g":21,"l":-4.5,"x":-7.65,"y":0.9},{"g":21,"l":-4.5,"x":-8.05,"y":2},
{"g":22,"l":-7.5,"x":-8.5,"y":1.44},{"g":22,"l":-7.5,"x":-8.7,"y":0.9},{"g":22,"l":-7.5,"x":-8.3,"y":0.9},
{"g":23,"l":1.5,"x":-16,"y":2.63},{"g":23,"l":1.5,"x":-15.45,"y":2.63},{"g":23,"l":1.5,"x":-14.1,"y":2},{"g":23,"l":1.5,"x":-13,"y":1.6},{"g":23,"l":1.5,"x":-12.15,"y":0.9},{"g":23,"l":1.5,"x":-16,"y":0.9},
{"g":24,"l":1.5,"x":0,"y":15.1},{"g":24,"l":1.5,"x":16,"y":15.1},{"g":24,"l":1.5,"x":16,"y":11.5},{"g":24,"l":1.5,"x":15.45,"y":11.5},{"g":24,"l":1.5,"x":14.7,"y":10.2},{"g":24,"l":1.5,"x":12.45,"y":10.48},{"g":24,"l":1.5,"x":11.45,"y":9.9},{"g":24,"l":1.5,"x":10.5,"y":9.8},{"g":24,"l":1.5,"x":9.5,"y":8.7},{"g":24,"l":1.5,"x":7.55,"y":9.65},{"g":24,"l":1.5,"x":7.25,"y":8.08},{"g":24,"l":1.5,"x":5.85,"y":7.05},{"g":24,"l":1.5,"x":3.9,"y":5.1},{"g":24,"l":1.5,"x":3.3,"y":3.04},{"g":24,"l":1.5,"x":4.15,"y":2.2},{"g":24,"l":1.5,"x":4,"y":1.3},{"g":24,"l":1.5,"x":4.7,"y":1.15},{"g":24,"l":1.5,"x":5.55,"y":0.9},{"g":24,"l":1.5,"x":0,"y":0.9},{"g":24,"l":1.5,"x":0,"y":5.4},{"g":24,"l":1.5,"x":1.5,"y":5.4},{"g":24,"l":1.5,"x":1.9,"y":7.05},{"g":24,"l":1.5,"x":2.35,"y":8.08},{"g":24,"l":1.5,"x":3,"y":8.4},{"g":24,"l":1.5,"x":3.45,"y":10},{"g":24,"l":1.5,"x":2.75,"y":11},{"g":24,"l":1.5,"x":1.5,"y":11.2},{"g":24,"l":1.5,"x":0,"y":11.2},
{"g":25,"l":1.5,"x":6.85,"y":0.9},{"g":25,"l":1.5,"x":6.3,"y":2.1},{"g":25,"l":1.5,"x":7,"y":3.14},{"g":25,"l":1.5,"x":7.5,"y":4.9},{"g":25,"l":1.5,"x":8.5,"y":5.4},{"g":25,"l":1.5,"x":10.6,"y":5.7},{"g":25,"l":1.5,"x":11.35,"y":7.15},{"g":25,"l":1.5,"x":12.15,"y":6.08},{"g":25,"l":1.5,"x":13.85,"y":5.05},{"g":25,"l":1.5,"x":13.85,"y":4.02},{"g":25,"l":1.5,"x":14.4,"y":3.85},{"g":25,"l":1.5,"x":15.25,"y":5},{"g":25,"l":1.5,"x":15.45,"y":5.6},{"g":25,"l":1.5,"x":16,"y":5.6},{"g":25,"l":1.5,"x":16,"y":0.9},
{"g":26,"l":-1.5,"x":3.25,"y":15.1},{"g":26,"l":-1.5,"x":4.45,"y":13.25},{"g":26,"l":-1.5,"x":5.55,"y":13.15},{"g":26,"l":-1.5,"x":6.55,"y":12.55},{"g":26,"l":-1.5,"x":6.85,"y":13},{"g":26,"l":-1.5,"x":6.25,"y":14},{"g":26,"l":-1.5,"x":7,"y":15.1},
{"g":27,"l":-4.5,"x":3.75,"y":15.1},{"g":27,"l":-4.5,"x":4.45,"y":13.9},{"g":27,"l":-4.5,"x":5.55,"y":13.85},{"g":27,"l":-4.5,"x":6.2,"y":15.1},
{"g":28,"l":-7.5,"x":4.6,"y":15.1},{"g":28,"l":-7.5,"x":5.25,"y":14.7},{"g":28,"l":-7.5,"x":5.55,"y":15.1},
{"g":29,"l":1.5,"x":16,"y":9.7},{"g":29,"l":1.5,"x":15.45,"y":9.7},{"g":29,"l":1.5,"x":14.7,"y":9.15},{"g":29,"l":1.5,"x":14.7,"y":8.08},{"g":29,"l":1.5,"x":15.4,"y":6.85},{"g":29,"l":1.5,"x":16,"y":6.85},
{"g":30,"l":4.5,"x":7.4,"y":14.4},{"g":30,"l":4.5,"x":8.4,"y":14.03},{"g":30,"l":4.5,"x":9.35,"y":13.8},{"g":30,"l":4.5,"x":9.8,"y":13},{"g":30,"l":4.5,"x":9.35,"y":12.3},{"g":30,"l":4.5,"x":8.5,"y":12.7},{"g":30,"l":4.5,"x":7.55,"y":11.65},{"g":30,"l":4.5,"x":7.25,"y":10.1},{"g":30,"l":4.5,"x":7.4,"y":9.1},{"g":30,"l":4.5,"x":7.25,"y":8},{"g":30,"l":4.5,"x":6.8,"y":8},{"g":30,"l":4.5,"x":4.7,"y":6.33},{"g":30,"l":4.5,"x":3.45,"y":5.35},{"g":30,"l":4.5,"x":2.5,"y":5.65},{"g":30,"l":4.5,"x":2.5,"y":6.5},{"g":30,"l":4.5,"x":2.9,"y":7.8},{"g":30,"l":4.5,"x":3,"y":8.3},{"g":30,"l":4.5,"x":3.6,"y":10},{"g":30,"l":4.5,"x":4.7,"y":11.67},{"g":30,"l":4.5,"x":5.55,"y":12.33},{"g":30,"l":4.5,"x":6.55,"y":11.9},{"g":30,"l":4.5,"x":7.25,"y":12.4},
{"g":31,"l":4.5,"x":0,"y":15.1},{"g":31,"l":4.5,"x":2.4,"y":15.1},{"g":31,"l":4.5,"x":3.45,"y":13},{"g":31,"l":4.5,"x":2.75,"y":11.9},{"g":31,"l":4.5,"x":1.5,"y":11.6},{"g":31,"l":4.5,"x":0,"y":11.6},
{"g":32,"l":7.5,"x":0,"y":15.1},{"g":32,"l":7.5,"x":2,"y":15.1},{"g":32,"l":7.5,"x":2.5,"y":13.65},{"g":32,"l":7.5,"x":2.6,"y":13.05},{"g":32,"l":7.5,"x":2.05,"y":12.4},{"g":32,"l":7.5,"x":1.5,"y":11.9},{"g":32,"l":7.5,"x":0,"y":11.9},
{"g":33,"l":10.5,"x":0,"y":15.1},{"g":33,"l":10.5,"x":1.6,"y":15.1},{"g":33,"l":10.5,"x":1.9,"y":14.1},{"g":33,"l":10.5,"x":1.75,"y":13},{"g":33,"l":10.5,"x":1.5,"y":12.6},{"g":33,"l":10.5,"x":0,"y":12.6},
{"g":34,"l":13.5,"x":0,"y":14.55},{"g":34,"l":13.5,"x":1.5,"y":14.55},{"g":34,"l":13.5,"x":1.6,"y":13.9},{"g":34,"l":13.5,"x":1.5,"y":13.5},{"g":34,"l":13.5,"x":0,"y":13.5},
{"g":35,"l":7.5,"x":6.4,"y":11.3},{"g":35,"l":7.5,"x":6,"y":11},{"g":35,"l":7.5,"x":5.75,"y":10},{"g":35,"l":7.5,"x":6.45,"y":8.25},{"g":35,"l":7.5,"x":7.25,"y":9.7},{"g":35,"l":7.5,"x":6.8,"y":11},
{"g":36,"l":10.5,"x":6.45,"y":10.4},{"g":36,"l":10.5,"x":6.3,"y":10},{"g":36,"l":10.5,"x":6.5,"y":9.55},{"g":36,"l":10.5,"x":6.7,"y":10},
{"g":37,"l":7.5,"x":4.5,"y":9.6},{"g":37,"l":7.5,"x":4.1,"y":8.9},{"g":37,"l":7.5,"x":4.45,"y":8},{"g":37,"l":7.5,"x":4.7,"y":7.8},{"g":37,"l":7.5,"x":4.9,"y":8.9},
{"g":38,"l":7.5,"x":3.5,"y":7.4},{"g":38,"l":7.5,"x":3.25,"y":7.05},{"g":38,"l":7.5,"x":3.5,"y":6.55},{"g":38,"l":7.5,"x":4.2,"y":7},
{"g":39,"l":4.5,"x":12.45,"y":14.08},{"g":39,"l":4.5,"x":11.75,"y":13},{"g":39,"l":4.5,"x":12.45,"y":12.45},{"g":39,"l":4.5,"x":13.4,"y":12.55},{"g":39,"l":4.5,"x":13.55,"y":12},{"g":39,"l":4.5,"x":14.4,"y":11.7},{"g":39,"l":4.5,"x":15.45,"y":12.5},{"g":39,"l":4.5,"x":16,"y":12.5},{"g":39,"l":4.5,"x":16,"y":15.1},{"g":39,"l":4.5,"x":14.8,"y":15.1},{"g":39,"l":4.5,"x":14.5,"y":13.75},{"g":39,"l":4.5,"x":13.5,"y":13.1},
{"g":40,"l":4.5,"x":0,"y":4.75},{"g":40,"l":4.5,"x":1.5,"y":4.75},{"g":40,"l":4.5,"x":2.5,"y":4.95},{"g":40,"l":4.5,"x":3.05,"y":3.55},{"g":40,"l":4.5,"x":3.6,"y":0.9},{"g":40,"l":4.5,"x":0,"y":0.9},
{"g":41,"l":7.5,"x":0,"y":4.35},{"g":41,"l":7.5,"x":1.5,"y":4.35},{"g":41,"l":7.5,"x":2.25,"y":4},{"g":41,"l":7.5,"x":2.5,"y":2.7},{"g":41,"l":7.5,"x":2.9,"y":0.9},{"g":41,"l":7.5,"x":0,"y":0.9},
{"g":42,"l":10.5,"x":0,"y":4},{"g":42,"l":10.5,"x":1.5,"y":4},{"g":42,"l":10.5,"x":1.9,"y":3.1},{"g":42,"l":10.5,"x":1.95,"y":0.9},{"g":42,"l":10.5,"x":0,"y":0.9},
{"g":43,"l":13.5,"x":0,"y":3.05},{"g":43,"l":13.5,"x":1.5,"y":3.05},{"g":43,"l":13.5,"x":1.6,"y":2.1},{"g":43,"l":13.5,"x":1.5,"y":1.6},{"g":43,"l":13.5,"x":0,"y":1.6},
{"g":44,"l":-4.5,"x":0,"y":10.75},{"g":44,"l":-4.5,"x":1.5,"y":10.75},{"g":44,"l":-4.5,"x":1.95,"y":9.7},{"g":44,"l":-4.5,"x":2.3,"y":9},{"g":44,"l":-4.5,"x":2.05,"y":7.88},{"g":44,"l":-4.5,"x":1.6,"y":6.1},{"g":44,"l":-4.5,"x":0,"y":6.1},
{"g":45,"l":-7.5,"x":0,"y":7.5},{"g":45,"l":-7.5,"x":1.5,"y":7.4},{"g":45,"l":-7.5,"x":1.75,"y":8.3},{"g":45,"l":-7.5,"x":2.05,"y":9},{"g":45,"l":-7.5,"x":1.5,"y":9.6},{"g":45,"l":-7.5,"x":0,"y":9.6},
{"g":46,"l":-4.5,"x":7.5,"y":7.2},{"g":46,"l":-4.5,"x":6.4,"y":7.08},{"g":46,"l":-4.5,"x":6.1,"y":6.03},{"g":46,"l":-4.5,"x":5.55,"y":5.1},{"g":46,"l":-4.5,"x":4.45,"y":4.74},{"g":46,"l":-4.5,"x":3.75,"y":3.45},{"g":46,"l":-4.5,"x":3.65,"y":2.94},{"g":46,"l":-4.5,"x":4.45,"y":2},{"g":46,"l":-4.5,"x":5.55,"y":1.85},{"g":46,"l":-4.5,"x":6.85,"y":3.04},{"g":46,"l":-4.5,"x":6.7,"y":3.6},{"g":46,"l":-4.5,"x":7.1,"y":5},{"g":46,"l":-4.5,"x":7.5,"y":6.2},
{"g":47,"l":-7.5,"x":6.55,"y":4.7},{"g":47,"l":-7.5,"x":5.7,"y":4.02},{"g":47,"l":-7.5,"x":6.7,"y":3.66},
{"g":48,"l":-7.5,"x":5.4,"y":3.55},{"g":48,"l":-7.5,"x":4.45,"y":3.35},{"g":48,"l":-7.5,"x":4.35,"y":2.94},{"g":48,"l":-7.5,"x":4.45,"y":2.78},{"g":48,"l":-7.5,"x":5.55,"y":2.94},
{"g":49,"l":4.5,"x":7.35,"y":2.42},{"g":49,"l":4.5,"x":7.3,"y":0.9},{"g":49,"l":4.5,"x":9.8,"y":0.9},{"g":49,"l":4.5,"x":9.35,"y":1.5},{"g":49,"l":4.5,"x":8.5,"y":1.8},
{"g":50,"l":4.5,"x":12.45,"y":2.1},{"g":50,"l":4.5,"x":11.75,"y":0.9},{"g":50,"l":4.5,"x":16,"y":0.9},{"g":50,"l":4.5,"x":16,"y":5},{"g":50,"l":4.5,"x":15.45,"y":5},{"g":50,"l":4.5,"x":15.1,"y":4.55},{"g":50,"l":4.5,"x":14.7,"y":3.76},{"g":50,"l":4.5,"x":14.7,"y":1.9},{"g":50,"l":4.5,"x":14.5,"y":1.7},{"g":50,"l":4.5,"x":13.5,"y":1.05},
{"g":51,"l":7.5,"x":16,"y":4.5},{"g":51,"l":7.5,"x":15.45,"y":4.5},{"g":51,"l":7.5,"x":15,"y":4},{"g":51,"l":7.5,"x":15.45,"y":3.45},{"g":51,"l":7.5,"x":16,"y":3.45}
]},
"mark":{"type":"line","clip":true,"strokeWidth":0},"encoding":{"x":{"field":"x","type":"quantitative","scale":{"domain":[-15.5,15.46],"nice":false,"zero":false},"title":null,"axis":{"zindex":1,"values":[-15,-10,-5,0,5,10,15],"tickSize":-5,"labelPadding":17,"labelExpr":"datum.value==-15?'15°S':datum.value==15?'15°N':abs(datum.value)+'°'"}},"y":{"field":"y","type":"quantitative","scale":{"domain":[1,15],"nice":false,"zero":false},"title":null,"axis":{"zindex":1,"values":[1,2,3,4,5,6,7,8,9,10,11,12,13,14,15],"tickSize":-5,"labels":false}},"detail":{"field":"g"},"order":{"value":null},"fill":{"field":"l","type":"quantitative","legend":null,"scale":{"type":"threshold","domain":[-21,-18,-15,-12,-9,-6,-3,0,3,6,9,12,15,18,21],"range":["#263a80","#2f5a9f","#6786c4","#8bafdc","#9cc9ec","#aad6ee","#b8dcef","#cfe8f2","#e6ea8a","#e5dd55","#ecb843","#ec8e33","#dc5027","#c92026","#a01c20","#730d0e"]}}}},
{"data":{"values":[{"x":-1.48,"x2":1.46,"y":1,"y2":15}]},"mark":{"type":"rect","fill":"white"},"encoding":{"x":{"field":"x","type":"quantitative","title":null,"axis":{"zindex":1,"orient":"top","values":[-15,-10,-5,0,5,10,15],"tickSize":-5,"labels":false}},"x2":{"field":"x2"},"y":{"field":"y","type":"quantitative","title":null,"axis":{"zindex":1,"orient":"right","values":[1,2,3,4,5,6,7,8,9,10,11,12,13,14,15],"tickSize":-5,"labels":false}},"y2":{"field":"y2"}}},
{"data":{"values":[{"x":-14.45,"y":14,"t":"b. ORAS5"}]},"mark":{"type":"text","align":"left","baseline":"middle","fontSize":20.5,"color":"#111"},"encoding":{"x":{"field":"x","type":"quantitative","axis":null},"y":{"field":"y","type":"quantitative","axis":null},"text":{"field":"t"}}}
]},
{"width":367,"height":453,"resolve":{"axis":{"x":"independent","y":"independent"}},"layer":[
{"data":{"values":[
{"g":0,"l":-1.5,"x":-16,"y":0},{"g":0,"l":-1.5,"x":16,"y":0},{"g":0,"l":-1.5,"x":16,"y":16},{"g":0,"l":-1.5,"x":-16,"y":16},
{"g":1,"l":1.5,"x":-16,"y":14.2},{"g":1,"l":1.5,"x":-15.2,"y":14.2},{"g":1,"l":1.5,"x":-13.3,"y":13.3},{"g":1,"l":1.5,"x":-12.2,"y":12},{"g":1,"l":1.5,"x":-11.75,"y":11},{"g":1,"l":1.5,"x":-12,"y":10},{"g":1,"l":1.5,"x":-12.8,"y":9},{"g":1,"l":1.5,"x":-13.4,"y":8.9},{"g":1,"l":1.5,"x":-15.2,"y":9.25},{"g":1,"l":1.5,"x":-16,"y":9.25},
{"g":2,"l":4.5,"x":-16,"y":13.5},{"g":2,"l":4.5,"x":-15.2,"y":13.5},{"g":2,"l":4.5,"x":-13.6,"y":12.6},{"g":2,"l":4.5,"x":-12.7,"y":11.35},{"g":2,"l":4.5,"x":-12.7,"y":10.85},{"g":2,"l":4.5,"x":-13.4,"y":9.8},{"g":2,"l":4.5,"x":-16,"y":9.8},
{"g":3,"l":7.5,"x":-16,"y":12.35},{"g":3,"l":7.5,"x":-15.2,"y":12.35},{"g":3,"l":7.5,"x":-14.6,"y":11.9},{"g":3,"l":7.5,"x":-14,"y":11},{"g":3,"l":7.5,"x":-14.75,"y":10.6},{"g":3,"l":7.5,"x":-16,"y":10.6},
{"g":4,"l":1.5,"x":-11.6,"y":15.1},{"g":4,"l":1.5,"x":-11,"y":14.3},{"g":4,"l":1.5,"x":-8.7,"y":14},{"g":4,"l":1.5,"x":-6.5,"y":13.6},{"g":4,"l":1.5,"x":-4.55,"y":13.25},{"g":4,"l":1.5,"x":-3.7,"y":12.9},{"g":4,"l":1.5,"x":-3.15,"y":11.05},{"g":4,"l":1.5,"x":-1.75,"y":10.65},{"g":4,"l":1.5,"x":0,"y":10.65},{"g":4,"l":1.5,"x":0,"y":15.1},
{"g":5,"l":4.5,"x":-9.5,"y":15.1},{"g":5,"l":4.5,"x":-9.1,"y":14.7},{"g":5,"l":4.5,"x":-7,"y":14.35},{"g":5,"l":4.5,"x":-5.1,"y":13.7},{"g":5,"l":4.5,"x":-3.45,"y":13.25},{"g":5,"l":4.5,"x":-2.6,"y":12.5},{"g":5,"l":4.5,"x":-1.75,"y":11.6},{"g":5,"l":4.5,"x":0,"y":11.6},{"g":5,"l":4.5,"x":0,"y":15.1},
{"g":6,"l":7.5,"x":-8.45,"y":15.1},{"g":6,"l":7.5,"x":-7.6,"y":14.75},{"g":6,"l":7.5,"x":-6.2,"y":14.45},{"g":6,"l":7.5,"x":-4.55,"y":13.9},{"g":6,"l":7.5,"x":-2.9,"y":13.5},{"g":6,"l":7.5,"x":-2.2,"y":12.9},{"g":6,"l":7.5,"x":-1.75,"y":12.2},{"g":6,"l":7.5,"x":0,"y":12.2},{"g":6,"l":7.5,"x":0,"y":15.1},
{"g":7,"l":10.5,"x":-7.6,"y":15.1},{"g":7,"l":10.5,"x":-6.6,"y":14.75},{"g":7,"l":10.5,"x":-4.8,"y":14.4},{"g":7,"l":10.5,"x":-2.9,"y":14},{"g":7,"l":10.5,"x":-2.2,"y":13.5},{"g":7,"l":10.5,"x":-1.75,"y":13},{"g":7,"l":10.5,"x":0,"y":13},{"g":7,"l":10.5,"x":0,"y":15.1},
{"g":8,"l":13.5,"x":-6.75,"y":15.1},{"g":8,"l":13.5,"x":-5.8,"y":14.73},{"g":8,"l":13.5,"x":-4,"y":14.55},{"g":8,"l":13.5,"x":-2.35,"y":14.35},{"g":8,"l":13.5,"x":-1.75,"y":13.7},{"g":8,"l":13.5,"x":0,"y":13.7},{"g":8,"l":13.5,"x":0,"y":15.1},
{"g":9,"l":16.5,"x":-6.05,"y":15.1},{"g":9,"l":16.5,"x":-5.1,"y":14.8},{"g":9,"l":16.5,"x":-3.45,"y":14.73},{"g":9,"l":16.5,"x":-1.9,"y":14.7},{"g":9,"l":16.5,"x":-1.75,"y":14.3},{"g":9,"l":16.5,"x":0,"y":14.3},{"g":9,"l":16.5,"x":0,"y":15.1},
{"g":10,"l":-4.5,"x":-8.7,"y":13.45},{"g":10,"l":-4.5,"x":-9.8,"y":13.2},{"g":10,"l":-4.5,"x":-10.35,"y":12.7},{"g":10,"l":-4.5,"x":-10.9,"y":10.3},{"g":10,"l":-4.5,"x":-11.6,"y":9.1},{"g":10,"l":-4.5,"x":-12,"y":8.47},{"g":10,"l":-4.5,"x":-13.4,"y":8.08},{"g":10,"l":-4.5,"x":-15.2,"y":8.52},{"g":10,"l":-4.5,"x":-16,"y":8.52},{"g":10,"l":-4.5,"x":-16,"y":4.58},{"g":10,"l":-4.5,"x":-15.2,"y":4.58},{"g":10,"l":-4.5,"x":-14.1,"y":4.33},{"g":10,"l":-4.5,"x":-13.3,"y":3.88},{"g":10,"l":-4.5,"x":-12.7,"y":4.07},{"g":10,"l":-4.5,"x":-12.55,"y":5.3},{"g":10,"l":-4.5,"x":-12,"y":5.92},{"g":10,"l":-4.5,"x":-11.3,"y":6.23},{"g":10,"l":-4.5,"x":-10.2,"y":6.05},{"g":10,"l":-4.5,"x":-8.95,"y":6.18},{"g":10,"l":-4.5,"x":-6.5,"y":5.77},{"g":10,"l":-4.5,"x":-4.3,"y":5.5},{"g":10,"l":-4.5,"x":-1.75,"y":5.15},{"g":10,"l":-4.5,"x":0,"y":5.15},{"g":10,"l":-4.5,"x":0,"y":10.27},{"g":10,"l":-4.5,"x":-1.75,"y":10.27},{"g":10,"l":-4.5,"x":-3.15,"y":10.53},{"g":10,"l":-4.5,"x":-4.4,"y":11.05},{"g":10,"l":-4.5,"x":-3.65,"y":12},{"g":10,"l":-4.5,"x":-4.2,"y":13.1},{"g":10,"l":-4.5,"x":-5,"y":13.25},{"g":10,"l":-4.5,"x":-7.3,"y":13.4},
{"g":11,"l":-7.5,"x":-7.15,"y":12.7},{"g":11,"l":-7.5,"x":-7.7,"y":12.4},{"g":11,"l":-7.5,"x":-8.25,"y":11.15},{"g":11,"l":-7.5,"x":-9.5,"y":10},{"g":11,"l":-7.5,"x":-10.2,"y":10.2},{"g":11,"l":-7.5,"x":-10.6,"y":9.3},{"g":11,"l":-7.5,"x":-11,"y":8.05},{"g":11,"l":-7.5,"x":-10.9,"y":7.26},{"g":11,"l":-7.5,"x":-10.05,"y":6.7},{"g":11,"l":-7.5,"x":-7.85,"y":6.34},{"g":11,"l":-7.5,"x":-6.2,"y":5.97},{"g":11,"l":-7.5,"x":-4,"y":5.6},{"g":11,"l":-7.5,"x":-1.75,"y":5.5},{"g":11,"l":-7.5,"x":0,"y":5.5},{"g":11,"l":-7.5,"x":0,"y":10.1},{"g":11,"l":-7.5,"x":-1.75,"y":10.1},{"g":11,"l":-7.5,"x":-4.25,"y":10.65},{"g":11,"l":-7.5,"x":-5.6,"y":11.05},{"g":11,"l":-7.5,"x":-5.6,"y":11.35},{"g":11,"l":-7.5,"x":-4.7,"y":12},{"g":11,"l":-7.5,"x":-5.4,"y":12.55},
{"g":12,"l":-10.5,"x":-7.15,"y":10.85},{"g":12,"l":-10.5,"x":-8.4,"y":10},{"g":12,"l":-10.5,"x":-9.6,"y":9.2},{"g":12,"l":-10.5,"x":-9.9,"y":8.1},{"g":12,"l":-10.5,"x":-9.9,"y":7.5},{"g":12,"l":-10.5,"x":-9.5,"y":6.8},{"g":12,"l":-10.5,"x":-8.7,"y":7},{"g":12,"l":-10.5,"x":-7,"y":6.5},{"g":12,"l":-10.5,"x":-4.55,"y":6.2},{"g":12,"l":-10.5,"x":-1.75,"y":5.9},{"g":12,"l":-10.5,"x":0,"y":5.9},{"g":12,"l":-10.5,"x":0,"y":9.6},{"g":12,"l":-10.5,"x":-1.75,"y":9.6},{"g":12,"l":-10.5,"x":-3.6,"y":10},{"g":12,"l":-10.5,"x":-5.1,"y":10.33},{"g":12,"l":-10.5,"x":-6.4,"y":10.85},
{"g":13,"l":-13.5,"x":-6.9,"y":10.17},{"g":13,"l":-13.5,"x":-7.45,"y":10},{"g":13,"l":-13.5,"x":-8.25,"y":9.05},{"g":13,"l":-13.5,"x":-8.4,"y":8.05},{"g":13,"l":-13.5,"x":-7.6,"y":7.47},{"g":13,"l":-13.5,"x":-6.75,"y":7},{"g":13,"l":-13.5,"x":-5.1,"y":6.64},{"g":13,"l":-13.5,"x":-3.15,"y":6.25},{"g":13,"l":-13.5,"x":-1.75,"y":6.23},{"g":13,"l":-13.5,"x":0,"y":6.23},{"g":13,"l":-13.5,"x":0,"y":9.2},{"g":13,"l":-13.5,"x":-1.75,"y":9.2},{"g":13,"l":-13.5,"x":-3.85,"y":9.1},{"g":13,"l":-13.5,"x":-4.8,"y":9.15},{"g":13,"l":-13.5,"x":-5.9,"y":9.6},
{"g":14,"l":-16.5,"x":-6.75,"y":9.33},{"g":14,"l":-16.5,"x":-7.35,"y":9.1},{"g":14,"l":-16.5,"x":-7.5,"y":8.06},{"g":14,"l":-16.5,"x":-6.75,"y":7.57},{"g":14,"l":-16.5,"x":-5.5,"y":7.16},{"g":14,"l":-16.5,"x":-4,"y":6.8},{"g":14,"l":-16.5,"x":-2.9,"y":6.65},{"g":14,"l":-16.5,"x":-1.75,"y":6.64},{"g":14,"l":-16.5,"x":0,"y":6.64},{"g":14,"l":-16.5,"x":0,"y":8.6},{"g":14,"l":-16.5,"x":-1.75,"y":8.6},{"g":14,"l":-16.5,"x":-3.15,"y":8.9},{"g":14,"l":-16.5,"x":-4.25,"y":8.68},{"g":14,"l":-16.5,"x":-5.25,"y":8.8},{"g":14,"l":-16.5,"x":-5.9,"y":9},
{"g":15,"l":-19.5,"x":-6.6,"y":8.2},{"g":15,"l":-19.5,"x":-6.9,"y":8},{"g":15,"l":-19.5,"x":-6.2,"y":7.73},{"g":15,"l":-19.5,"x":-4.7,"y":7.62},{"g":15,"l":-19.5,"x":-3.6,"y":7.05},{"g":15,"l":-19.5,"x":-2.2,"y":7},{"g":15,"l":-19.5,"x":-1.75,"y":7.4},{"g":15,"l":-19.5,"x":0,"y":7.4},{"g":15,"l":-19.5,"x":0,"y":8},{"g":15,"l":-19.5,"x":-1.75,"y":8},{"g":15,"l":-19.5,"x":-2.75,"y":8.35},{"g":15,"l":-19.5,"x":-4.7,"y":8.15},{"g":15,"l":-19.5,"x":-5.8,"y":8.3},
{"g":16,"l":1.5,"x":-11.7,"y":3.04},{"g":16,"l":1.5,"x":-11,"y":5.1},{"g":16,"l":1.5,"x":-10.35,"y":5.43},{"g":16,"l":1.5,"x":-8.7,"y":5.74},{"g":16,"l":1.5,"x":-6.5,"y":5.6},{"g":16,"l":1.5,"x":-4,"y":5.36},{"g":16,"l":1.5,"x":-1.75,"y":4.9},{"g":16,"l":1.5,"x":0,"y":4.9},{"g":16,"l":1.5,"x":0,"y":0.9},{"g":16,"l":1.5,"x":-3.2,"y":0.9},{"g":16,"l":1.5,"x":-4.3,"y":1.34},{"g":16,"l":1.5,"x":-6.75,"y":1.8},{"g":16,"l":1.5,"x":-9.4,"y":2.27},{"g":16,"l":1.5,"x":-10.2,"y":2},{"g":16,"l":1.5,"x":-11,"y":2.2},{"g":16,"l":1.5,"x":-11.6,"y":2.73},
{"g":17,"l":4.5,"x":-10.5,"y":3.97},{"g":17,"l":4.5,"x":-10.2,"y":4.58},{"g":17,"l":4.5,"x":-9.25,"y":5},{"g":17,"l":4.5,"x":-7.6,"y":5.36},{"g":17,"l":4.5,"x":-5.35,"y":5.2},{"g":17,"l":4.5,"x":-3.2,"y":4.9},{"g":17,"l":4.5,"x":-1.75,"y":4.64},{"g":17,"l":4.5,"x":0,"y":4.64},{"g":17,"l":4.5,"x":0,"y":0.9},{"g":17,"l":4.5,"x":-2.4,"y":0.9},{"g":17,"l":4.5,"x":-3.2,"y":1.4},{"g":17,"l":4.5,"x":-5.1,"y":1.75},{"g":17,"l":4.5,"x":-7.3,"y":2.2},{"g":17,"l":4.5,"x":-9.25,"y":2.83},{"g":17,"l":4.5,"x":-10.2,"y":2.94},
{"g":18,"l":7.5,"x":-9.4,"y":3.97},{"g":18,"l":7.5,"x":-9,"y":4.5},{"g":18,"l":7.5,"x":-7.85,"y":4.9},{"g":18,"l":7.5,"x":-6.75,"y":5},{"g":18,"l":7.5,"x":-4.55,"y":4.8},{"g":18,"l":7.5,"x":-1.75,"y":4.33},{"g":18,"l":7.5,"x":0,"y":4.33},{"g":18,"l":7.5,"x":0,"y":0.9},{"g":18,"l":7.5,"x":-2,"y":0.9},{"g":18,"l":7.5,"x":-2.6,"y":1.4},{"g":18,"l":7.5,"x":-4.3,"y":2.06},{"g":18,"l":7.5,"x":-6.75,"y":2.27},{"g":18,"l":7.5,"x":-9,"y":3.14},
{"g":19,"l":10.5,"x":-8.35,"y":4.02},{"g":19,"l":10.5,"x":-7.3,"y":4.64},{"g":19,"l":10.5,"x":-6.2,"y":4.8},{"g":19,"l":10.5,"x":-4.55,"y":4.48},{"g":19,"l":10.5,"x":-1.75,"y":3.97},{"g":19,"l":10.5,"x":0,"y":3.97},{"g":19,"l":10.5,"x":0,"y":0.9},{"g":19,"l":10.5,"x":-1.7,"y":0.9},{"g":19,"l":10.5,"x":-2.5,"y":1.9},{"g":19,"l":10.5,"x":-4.3,"y":2.37},{"g":19,"l":10.5,"x":-6.5,"y":2.63},{"g":19,"l":10.5,"x":-7.7,"y":3.04},
{"g":20,"l":13.5,"x":-7.3,"y":3.97},{"g":20,"l":13.5,"x":-6.75,"y":4.33},{"g":20,"l":13.5,"x":-5.35,"y":4.38},{"g":20,"l":13.5,"x":-3.7,"y":4.12},{"g":20,"l":13.5,"x":-1.75,"y":3.76},{"g":20,"l":13.5,"x":0,"y":3.76},{"g":20,"l":13.5,"x":0,"y":1.2},{"g":20,"l":13.5,"x":-1.75,"y":1.2},{"g":20,"l":13.5,"x":-1.75,"y":2},{"g":20,"l":13.5,"x":-2.35,"y":2.58},{"g":20,"l":13.5,"x":-4,"y":2.73},{"g":20,"l":13.5,"x":-6.2,"y":2.94},{"g":20,"l":13.5,"x":-7,"y":3.25},
{"g":21,"l":16.5,"x":-6.5,"y":4.02},{"g":21,"l":16.5,"x":-6.2,"y":4.12},{"g":21,"l":16.5,"x":-4.4,"y":4.07},{"g":21,"l":16.5,"x":-3.7,"y":3.55},{"g":21,"l":16.5,"x":-1.75,"y":3.4},{"g":21,"l":16.5,"x":0,"y":3.4},{"g":21,"l":16.5,"x":0,"y":2.81},{"g":21,"l":16.5,"x":-1.75,"y":2.81},{"g":21,"l":16.5,"x":-3.45,"y":2.75},{"g":21,"l":16.5,"x":-6.2,"y":3.04},
{"g":22,"l":1.5,"x":-16,"y":2.88},{"g":22,"l":1.5,"x":-15.2,"y":2.88},{"g":22,"l":1.5,"x":-14.2,"y":2.42},{"g":22,"l":1.5,"x":-13.2,"y":1.8},{"g":22,"l":1.5,"x":-12.55,"y":0.9},{"g":22,"l":1.5,"x":-16,"y":0.9},
{"g":23,"l":4.5,"x":-16,"y":1.24},{"g":23,"l":4.5,"x":-15.2,"y":1.24},{"g":23,"l":4.5,"x":-14.9,"y":0.9},{"g":23,"l":4.5,"x":-16,"y":0.9},
{"g":24,"l":-4.5,"x":-10.2,"y":0.9},{"g":24,"l":-4.5,"x":-9.95,"y":1.13},{"g":24,"l":-4.5,"x":-9,"y":1.44},{"g":24,"l":-4.5,"x":-7,"y":1.4},{"g":24,"l":-4.5,"x":-5.1,"y":1.24},{"g":24,"l":-4.5,"x":-3.7,"y":0.9},
{"g":25,"l":1.5,"x":0,"y":0.9},{"g":25,"l":1.5,"x":16,"y":0.9},{"g":25,"l":1.5,"x":16,"y":15.1},{"g":25,"l":1.5,"x":0,"y":15.1},
{"g":26,"l":-1.5,"x":3,"y":15.1},{"g":26,"l":-1.5,"x":3.2,"y":13.1},{"g":26,"l":-1.5,"x":3.45,"y":12.55},{"g":26,"l":-1.5,"x":4.55,"y":12.7},{"g":26,"l":-1.5,"x":5.65,"y":13.4},{"g":26,"l":-1.5,"x":6.75,"y":15.1},
{"g":27,"l":-1.5,"x":8.15,"y":7.95},{"g":27,"l":-1.5,"x":8.8,"y":6.03},{"g":27,"l":-1.5,"x":7.6,"y":5.77},{"g":27,"l":-1.5,"x":7.15,"y":5.3},{"g":27,"l":-1.5,"x":6.9,"y":3.66},{"g":27,"l":-1.5,"x":6.2,"y":1.7},{"g":27,"l":-1.5,"x":5.25,"y":0.9},{"g":27,"l":-1.5,"x":3.7,"y":0.9},{"g":27,"l":-1.5,"x":3,"y":1.5},{"g":27,"l":-1.5,"x":2.9,"y":3.45},{"g":27,"l":-1.5,"x":3.6,"y":4.9},{"g":27,"l":-1.5,"x":4.8,"y":6.03},{"g":27,"l":-1.5,"x":6.5,"y":6.55},{"g":27,"l":-1.5,"x":7.3,"y":6.5},
{"g":28,"l":-1.5,"x":9.4,"y":7.85},{"g":28,"l":-1.5,"x":9.8,"y":8.47},{"g":28,"l":-1.5,"x":10.75,"y":9},{"g":28,"l":-1.5,"x":12.55,"y":9.45},{"g":28,"l":-1.5,"x":13.65,"y":9.3},{"g":28,"l":-1.5,"x":15.15,"y":8.9},{"g":28,"l":-1.5,"x":16,"y":8.9},{"g":28,"l":-1.5,"x":16,"y":3.6},{"g":28,"l":-1.5,"x":15.15,"y":3.6},{"g":28,"l":-1.5,"x":14.5,"y":4.17},{"g":28,"l":-1.5,"x":14.5,"y":5.1},{"g":28,"l":-1.5,"x":13.5,"y":6.13},{"g":28,"l":-1.5,"x":12.7,"y":6.44},{"g":28,"l":-1.5,"x":11.6,"y":6.28},{"g":28,"l":-1.5,"x":11.15,"y":5.36},{"g":28,"l":-1.5,"x":11,"y":5.82},{"g":28,"l":-1.5,"x":9.65,"y":6.54},
{"g":29,"l":-4.5,"x":11.6,"y":8.47},{"g":29,"l":-4.5,"x":10.2,"y":8},{"g":29,"l":-4.5,"x":11.45,"y":7.4},{"g":29,"l":-4.5,"x":13,"y":7.8},{"g":29,"l":-4.5,"x":13,"y":8.1},{"g":29,"l":-4.5,"x":12.55,"y":8.63},
{"g":30,"l":-1.5,"x":0,"y":9.4},{"g":30,"l":-1.5,"x":1.9,"y":9},{"g":30,"l":-1.5,"x":1.8,"y":7.85},{"g":30,"l":-1.5,"x":0,"y":7.85},
{"g":31,"l":4.5,"x":7.85,"y":15.1},{"g":31,"l":4.5,"x":13.8,"y":15.1},{"g":31,"l":4.5,"x":15.15,"y":14.7},{"g":31,"l":4.5,"x":16,"y":14.7},{"g":31,"l":4.5,"x":16,"y":10.7},{"g":31,"l":4.5,"x":14.6,"y":10.65},{"g":31,"l":4.5,"x":13.8,"y":10.5},{"g":31,"l":4.5,"x":12.8,"y":10.3},{"g":31,"l":4.5,"x":11,"y":9.75},{"g":31,"l":4.5,"x":10.3,"y":9.8},{"g":31,"l":4.5,"x":8.7,"y":10.95},{"g":31,"l":4.5,"x":8.4,"y":10.1},{"g":31,"l":4.5,"x":7.3,"y":9.3},{"g":31,"l":4.5,"x":6.2,"y":8.05},{"g":31,"l":4.5,"x":5.4,"y":7.05},{"g":31,"l":4.5,"x":3.7,"y":5.92},{"g":31,"l":4.5,"x":2.9,"y":5},{"g":31,"l":4.5,"x":2.35,"y":3.65},{"g":31,"l":4.5,"x":2.35,"y":1.5},{"g":31,"l":4.5,"x":2.9,"y":0.9},{"g":31,"l":4.5,"x":0,"y":0.9},{"g":31,"l":4.5,"x":0,"y":15.1},{"g":31,"l":4.5,"x":2.5,"y":15.1},{"g":31,"l":4.5,"x":2.5,"y":12.4},{"g":31,"l":4.5,"x":3.2,"y":11.7},{"g":31,"l":4.5,"x":5.1,"y":12.4},{"g":31,"l":4.5,"x":6.75,"y":13.25},
{"g":32,"l":4.5,"x":6.2,"y":0.9},{"g":32,"l":4.5,"x":7,"y":2.3},{"g":32,"l":4.5,"x":7.15,"y":5.35},{"g":32,"l":4.5,"x":7.6,"y":5.77},{"g":32,"l":4.5,"x":8.8,"y":6},{"g":32,"l":4.5,"x":8.9,"y":3.25},{"g":32,"l":4.5,"x":11,"y":4.4},{"g":32,"l":4.5,"x":11.7,"y":4.8},{"g":32,"l":4.5,"x":12.4,"y":4.1},{"g":32,"l":4.5,"x":13.4,"y":3.6},{"g":32,"l":4.5,"x":15.15,"y":3},{"g":32,"l":4.5,"x":16,"y":3},{"g":32,"l":4.5,"x":16,"y":0.9},
{"g":33,"l":1.5,"x":8.7,"y":15.1},{"g":33,"l":1.5,"x":8.85,"y":15.1},{"g":33,"l":1.5,"x":8.8,"y":12.6},
{"g":34,"l":7.5,"x":11.2,"y":14.75},{"g":34,"l":7.5,"x":11.9,"y":14.7},{"g":34,"l":7.5,"x":12.1,"y":14.35},{"g":34,"l":7.5,"x":12.7,"y":14.5},{"g":34,"l":7.5,"x":13.25,"y":14.1},{"g":34,"l":7.5,"x":15.15,"y":13.7},{"g":34,"l":7.5,"x":16,"y":13.7},{"g":34,"l":7.5,"x":16,"y":11.3},{"g":34,"l":7.5,"x":15.15,"y":11.3},{"g":34,"l":7.5,"x":11.6,"y":11.45},{"g":34,"l":7.5,"x":11.15,"y":10.4},{"g":34,"l":7.5,"x":10.75,"y":11.35},{"g":34,"l":7.5,"x":10.05,"y":12},{"g":34,"l":7.5,"x":10.9,"y":13.4},
{"g":35,"l":10.5,"x":12.7,"y":13},{"g":35,"l":10.5,"x":13.35,"y":13.05},{"g":35,"l":10.5,"x":14,"y":13},{"g":35,"l":10.5,"x":13.65,"y":12.8},{"g":35,"l":10.5,"x":13.2,"y":12.9},
{"g":36,"l":10.5,"x":11.15,"y":12.8},{"g":36,"l":10.5,"x":10.85,"y":12},{"g":36,"l":10.5,"x":11.15,"y":10.75},{"g":36,"l":10.5,"x":11.5,"y":12},
{"g":37,"l":13.5,"x":11.15,"y":12.55},{"g":37,"l":13.5,"x":10.95,"y":12},{"g":37,"l":13.5,"x":11.15,"y":11.15},{"g":37,"l":13.5,"x":11.35,"y":12},
{"g":38,"l":16.5,"x":11.15,"y":12.35},{"g":38,"l":16.5,"x":11.02,"y":12},{"g":38,"l":16.5,"x":11.15,"y":11.4},{"g":38,"l":16.5,"x":11.28,"y":12},
{"g":39,"l":19.5,"x":11.15,"y":12.2},{"g":39,"l":19.5,"x":11.08,"y":12},{"g":39,"l":19.5,"x":11.15,"y":11.7},{"g":39,"l":19.5,"x":11.22,"y":12},
{"g":40,"l":7.5,"x":6.2,"y":12},{"g":40,"l":7.5,"x":6.3,"y":10.2},{"g":40,"l":7.5,"x":5.65,"y":8.9},{"g":40,"l":7.5,"x":5.85,"y":8},{"g":40,"l":7.5,"x":4.55,"y":6.95},{"g":40,"l":7.5,"x":3.4,"y":6},{"g":40,"l":7.5,"x":2.75,"y":5.1},{"g":40,"l":7.5,"x":2.25,"y":5.5},{"g":40,"l":7.5,"x":1.95,"y":7.3},{"g":40,"l":7.5,"x":2.2,"y":8.5},{"g":40,"l":7.5,"x":3.1,"y":10.8},{"g":40,"l":7.5,"x":4.55,"y":11.65},
{"g":41,"l":10.5,"x":4.7,"y":11.05},{"g":41,"l":10.5,"x":3.7,"y":10.65},{"g":41,"l":10.5,"x":3,"y":9.7},{"g":41,"l":10.5,"x":2.4,"y":8.25},{"g":41,"l":10.5,"x":2.2,"y":7.05},{"g":41,"l":10.5,"x":2.35,"y":6.03},{"g":41,"l":10.5,"x":2.75,"y":5.35},{"g":41,"l":10.5,"x":3.5,"y":6.2},{"g":41,"l":10.5,"x":4.7,"y":7},{"g":41,"l":10.5,"x":5.4,"y":7.7},{"g":41,"l":10.5,"x":5.65,"y":9},{"g":41,"l":10.5,"x":5.25,"y":10.6},
{"g":42,"l":13.5,"x":4.2,"y":10.2},{"g":42,"l":13.5,"x":3.65,"y":10.05},{"g":42,"l":13.5,"x":3,"y":8.45},{"g":42,"l":13.5,"x":2.95,"y":8.08},{"g":42,"l":13.5,"x":3.3,"y":7.2},{"g":42,"l":13.5,"x":4.7,"y":8.08},{"g":42,"l":13.5,"x":5.05,"y":9},{"g":42,"l":13.5,"x":4.7,"y":10},
{"g":43,"l":16.5,"x":2.7,"y":6.35},{"g":43,"l":16.5,"x":2.6,"y":6.1},{"g":43,"l":16.5,"x":2.75,"y":5.95},
{"g":44,"l":7.5,"x":0,"y":3.75},{"g":44,"l":7.5,"x":1.71,"y":3.75},{"g":44,"l":7.5,"x":2,"y":3},{"g":44,"l":7.5,"x":1.95,"y":2},{"g":44,"l":7.5,"x":2.05,"y":0.9},{"g":44,"l":7.5,"x":0,"y":0.9},
{"g":45,"l":10.5,"x":0,"y":3.05},{"g":45,"l":10.5,"x":1.71,"y":3.05},{"g":45,"l":10.5,"x":1.85,"y":2.2},{"g":45,"l":10.5,"x":1.71,"y":1.6},{"g":45,"l":10.5,"x":0,"y":1.6},
{"g":46,"l":7.5,"x":0,"y":15.1},{"g":46,"l":7.5,"x":2.4,"y":15.1},{"g":46,"l":7.5,"x":2.3,"y":12.5},{"g":46,"l":7.5,"x":2.3,"y":12},{"g":46,"l":7.5,"x":1.71,"y":11.55},{"g":46,"l":7.5,"x":0,"y":11.55},
{"g":47,"l":10.5,"x":0,"y":15.1},{"g":47,"l":10.5,"x":2.05,"y":15.1},{"g":47,"l":10.5,"x":2,"y":12.4},{"g":47,"l":10.5,"x":1.71,"y":11.9},{"g":47,"l":10.5,"x":0,"y":11.9},
{"g":48,"l":13.5,"x":0,"y":15.1},{"g":48,"l":13.5,"x":1.8,"y":15.1},{"g":48,"l":13.5,"x":1.9,"y":14.1},{"g":48,"l":13.5,"x":1.71,"y":13.4},{"g":48,"l":13.5,"x":0,"y":13.4},
{"g":49,"l":7.5,"x":10.75,"y":0.9},{"g":49,"l":7.5,"x":11.15,"y":2.73},{"g":49,"l":7.5,"x":12,"y":2.42},{"g":49,"l":7.5,"x":12.7,"y":2.47},{"g":49,"l":7.5,"x":13.1,"y":2.1},{"g":49,"l":7.5,"x":15.15,"y":1.8},{"g":49,"l":7.5,"x":16,"y":1.8},{"g":49,"l":7.5,"x":16,"y":0.9},
{"g":50,"l":10.5,"x":12.8,"y":0.9},{"g":50,"l":10.5,"x":13.5,"y":1.06},{"g":50,"l":10.5,"x":14,"y":0.9},
{"g":51,"l":1.5,"x":8.62,"y":3.2},{"g":51,"l":1.5,"x":8.74,"y":3.2},{"g":51,"l":1.5,"x":8.74,"y":0.9},{"g":51,"l":1.5,"x":8.62,"y":0.9},
{"g":52,"l":13.5,"x":8.68,"y":5},{"g":52,"l":13.5,"x":8.3,"y":4},{"g":52,"l":13.5,"x":8.68,"y":3},{"g":52,"l":13.5,"x":9.1,"y":4},
{"g":53,"l":19.5,"x":8.68,"y":4.75},{"g":53,"l":19.5,"x":8.35,"y":4},{"g":53,"l":19.5,"x":8.68,"y":3.3},{"g":53,"l":19.5,"x":9.05,"y":4},
{"g":54,"l":22.5,"x":8.68,"y":4.5},{"g":54,"l":22.5,"x":8.4,"y":4},{"g":54,"l":22.5,"x":8.68,"y":3.5},{"g":54,"l":22.5,"x":8.98,"y":4},
{"g":55,"l":-4.5,"x":5.4,"y":5.46},{"g":55,"l":-4.5,"x":4.4,"y":5.3},{"g":55,"l":-4.5,"x":3.6,"y":4.5},{"g":55,"l":-4.5,"x":3.2,"y":3.14},{"g":55,"l":-4.5,"x":3.45,"y":1.7},{"g":55,"l":-4.5,"x":4.3,"y":1.2},{"g":55,"l":-4.5,"x":5.5,"y":1.4},{"g":55,"l":-4.5,"x":6.2,"y":2.73},{"g":55,"l":-4.5,"x":6.5,"y":3.97},{"g":55,"l":-4.5,"x":6.2,"y":5.2},
{"g":56,"l":-7.5,"x":5.1,"y":5},{"g":56,"l":-7.5,"x":4,"y":4.58},{"g":56,"l":-7.5,"x":3.5,"y":3.35},{"g":56,"l":-7.5,"x":3.7,"y":2},{"g":56,"l":-7.5,"x":4.4,"y":1.7},{"g":56,"l":-7.5,"x":5.4,"y":2},{"g":56,"l":-7.5,"x":5.9,"y":3.25},{"g":56,"l":-7.5,"x":5.9,"y":4.2},
{"g":57,"l":-10.5,"x":4.7,"y":4.38},{"g":57,"l":-10.5,"x":3.85,"y":3.97},{"g":57,"l":-10.5,"x":3.7,"y":3.04},{"g":57,"l":-10.5,"x":4.4,"y":1.96},{"g":57,"l":-10.5,"x":4.95,"y":2},{"g":57,"l":-10.5,"x":5.4,"y":3.14},{"g":57,"l":-10.5,"x":5.65,"y":3.97},
{"g":58,"l":-13.5,"x":4.75,"y":3.86},{"g":58,"l":-13.5,"x":4.1,"y":3.25},{"g":58,"l":-13.5,"x":4.1,"y":3.04},{"g":58,"l":-13.5,"x":4.7,"y":2.44},{"g":58,"l":-13.5,"x":5.3,"y":3.14},
{"g":59,"l":-4.5,"x":3.2,"y":15.1},{"g":59,"l":-4.5,"x":3.3,"y":13.5},{"g":59,"l":-4.5,"x":4,"y":13.1},{"g":59,"l":-4.5,"x":5.1,"y":13.3},{"g":59,"l":-4.5,"x":6.2,"y":14.25},{"g":59,"l":-4.5,"x":6.6,"y":15.1},
{"g":60,"l":-7.5,"x":3.4,"y":15.1},{"g":60,"l":-7.5,"x":3.6,"y":13.9},{"g":60,"l":-7.5,"x":4.4,"y":13.45},{"g":60,"l":-7.5,"x":5.65,"y":14.1},{"g":60,"l":-7.5,"x":6.05,"y":15.1},
{"g":61,"l":-10.5,"x":3.7,"y":15.1},{"g":61,"l":-10.5,"x":3.85,"y":14.35},{"g":61,"l":-10.5,"x":4.55,"y":13.9},{"g":61,"l":-10.5,"x":5.65,"y":14.65},{"g":61,"l":-10.5,"x":5.85,"y":15.1},
{"g":62,"l":-13.5,"x":4.15,"y":15.1},{"g":62,"l":-13.5,"x":4.7,"y":14.45},{"g":62,"l":-13.5,"x":5.25,"y":14.85},{"g":62,"l":-13.5,"x":5.4,"y":15.1}
]},
"mark":{"type":"line","clip":true,"strokeWidth":0},"encoding":{"x":{"field":"x","type":"quantitative","scale":{"domain":[-15.2,15.16],"nice":false,"zero":false},"title":null,"axis":{"zindex":1,"values":[-15,-10,-5,0,5,10,15],"tickSize":-5,"labelPadding":17,"labelExpr":"datum.value==-15?'15°S':datum.value==15?'15°N':abs(datum.value)+'°'"}},"y":{"field":"y","type":"quantitative","scale":{"domain":[1,15],"nice":false,"zero":false},"title":null,"axis":{"zindex":1,"values":[1,2,3,4,5,6,7,8,9,10,11,12,13,14,15],"tickSize":-5,"labels":false}},"detail":{"field":"g"},"order":{"value":null},"fill":{"field":"l","type":"quantitative","legend":null,"scale":{"type":"threshold","domain":[-21,-18,-15,-12,-9,-6,-3,0,3,6,9,12,15,18,21],"range":["#263a80","#2f5a9f","#6786c4","#8bafdc","#9cc9ec","#aad6ee","#b8dcef","#cfe8f2","#e6ea8a","#e5dd55","#ecb843","#ec8e33","#dc5027","#c92026","#a01c20","#730d0e"]}}}},
{"data":{"values":[{"x":-1.74,"x2":1.71,"y":1,"y2":15}]},"mark":{"type":"rect","fill":"white"},"encoding":{"x":{"field":"x","type":"quantitative","title":null,"axis":{"zindex":1,"orient":"top","values":[-15,-10,-5,0,5,10,15],"tickSize":-5,"labels":false}},"x2":{"field":"x2"},"y":{"field":"y","type":"quantitative","title":null,"axis":{"zindex":1,"orient":"right","values":[1,2,3,4,5,6,7,8,9,10,11,12,13,14,15],"tickSize":-5,"labels":false}},"y2":{"field":"y2"}}},
{"data":{"values":[{"x":-14.4,"y":14,"t":"c. SODA"}]},"mark":{"type":"text","align":"left","baseline":"middle","fontSize":20.5,"color":"#111"},"encoding":{"x":{"field":"x","type":"quantitative","axis":null},"y":{"field":"y","type":"quantitative","axis":null},"text":{"field":"t"}}}
]}
],"spacing":50.5,"bounds":"flush"},
{"width":1202,"height":15,"layer":[{"data":{"values":[{"a":-24,"b":-21,"l":-22.5},{"a":-21,"b":-18,"l":-19.5},{"a":-18,"b":-15,"l":-16.5},{"a":-15,"b":-12,"l":-13.5},{"a":-12,"b":-9,"l":-10.5},{"a":-9,"b":-6,"l":-7.5},{"a":-6,"b":-3,"l":-4.5},{"a":-3,"b":0,"l":-1.5},{"a":0,"b":3,"l":1.5},{"a":3,"b":6,"l":4.5},{"a":6,"b":9,"l":7.5},{"a":9,"b":12,"l":10.5},{"a":12,"b":15,"l":13.5},{"a":15,"b":18,"l":16.5},{"a":18,"b":21,"l":19.5},{"a":21,"b":24,"l":22.5}]},"mark":{"type":"rect"},"encoding":{"x":{"field":"a","type":"quantitative","scale":{"domain":[-39.52,38.87],"nice":false,"zero":false},"title":"输运异常/(×10⁶ m³/s)","axis":{"zindex":1,"domain":false,"values":[-24,-21,-18,-15,-12,-9,-6,-3,0,3,6,9,12,15,18,21,24],"tickSize":-5,"labelPadding":14,"titleFontSize":20,"titleFontWeight":"normal","titleColor":"#222","titlePadding":13,"labelExpr":"replace(datum.label,'−','–')"}},"x2":{"field":"b"},"fill":{"field":"l","type":"quantitative","legend":null,"scale":{"type":"threshold","domain":[-21,-18,-15,-12,-9,-6,-3,0,3,6,9,12,15,18,21],"range":["#263a80","#2f5a9f","#6786c4","#8bafdc","#9cc9ec","#aad6ee","#b8dcef","#cfe8f2","#e6ea8a","#e5dd55","#ecb843","#ec8e33","#dc5027","#c92026","#a01c20","#730d0e"]}}}},{"data":{"values":[{"a":-24,"b":24}]},"mark":{"type":"rect","fill":null,"stroke":"#444","strokeWidth":1.5},"encoding":{"x":{"field":"a","type":"quantitative"},"x2":{"field":"b"}}}],"view":{"stroke":null}}
]}
